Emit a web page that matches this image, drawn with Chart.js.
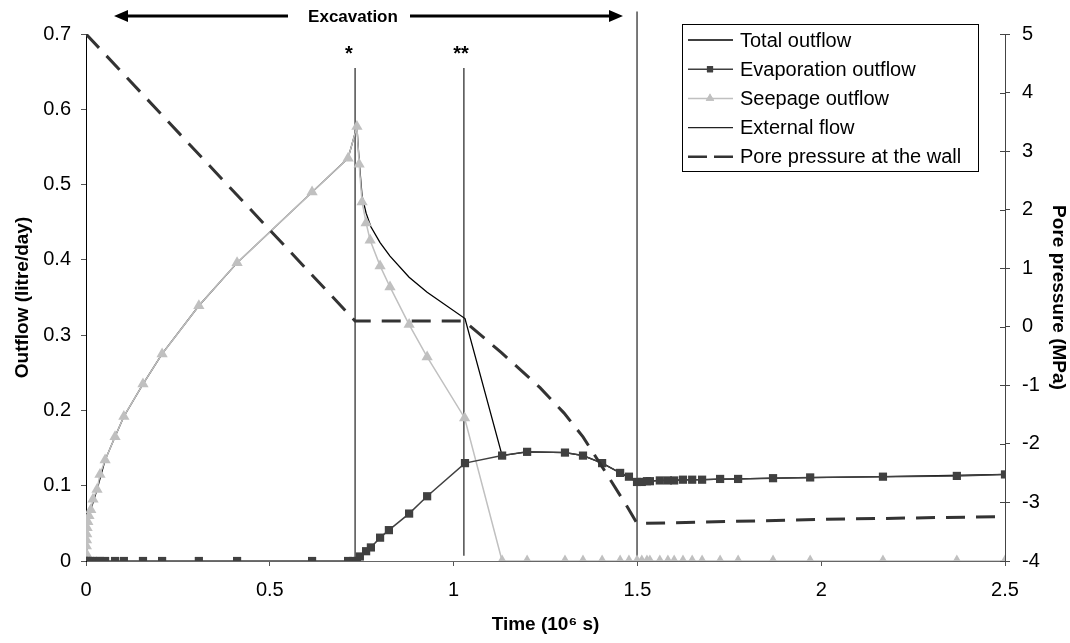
<!DOCTYPE html>
<html>
<head>
<meta charset="utf-8">
<script src="https://cdn.jsdelivr.net/npm/chart.js@4.4.1/dist/chart.umd.min.js"></script>
<style>
  html, body { margin: 0; padding: 0; background: #fff; }
</style>
</head>
<body>
<canvas id="outflowChart" width="1070" height="643"></canvas>
<script>
const FONT = "'Liberation Sans', Arial, Helvetica, sans-serif";

// time in 10^6 s, flow in litre/day, pressure in MPa
const timeTicks = [0, 0.5, 1, 1.5, 2, 2.5];
const flowTicks = [0, 0.1, 0.2, 0.3, 0.4, 0.5, 0.6, 0.7];
const pressureTicks = [-4, -3, -2, -1, 0, 1, 2, 3, 4, 5];

const seepageTime = [0, 0.0005, 0.001, 0.0015, 0.002, 0.003, 0.005, 0.008, 0.013, 0.019, 0.03, 0.038, 0.052, 0.079, 0.103, 0.155, 0.207, 0.307, 0.411, 0.615, 0.713, 0.737, 0.743, 0.751, 0.762, 0.773, 0.8, 0.827, 0.879, 0.928, 1.03, 1.132, 1.2, 1.303, 1.352, 1.404, 1.453, 1.477, 1.499, 1.512, 1.526, 1.534, 1.561, 1.583, 1.6, 1.624, 1.649, 1.676, 1.725, 1.774, 1.869, 1.97, 2.168, 2.369, 2.5];
const seepageFlow = [0, 0.01, 0.02, 0.028, 0.036, 0.044, 0.052, 0.06, 0.068, 0.082, 0.095, 0.115, 0.134, 0.165, 0.192, 0.235, 0.275, 0.339, 0.396, 0.49, 0.535, 0.577, 0.527, 0.477, 0.449, 0.426, 0.392, 0.364, 0.314, 0.271, 0.19, 0, 0, 0, 0, 0, 0, 0, 0, 0, 0, 0, 0, 0, 0, 0, 0, 0, 0, 0, 0, 0, 0, 0, 0];

const evapTime = [0, 0.002, 0.005, 0.01, 0.019, 0.03, 0.038, 0.052, 0.079, 0.103, 0.155, 0.207, 0.307, 0.411, 0.615, 0.713, 0.727, 0.737, 0.745, 0.762, 0.775, 0.8, 0.824, 0.879, 0.928, 1.031, 1.132, 1.2, 1.303, 1.352, 1.404, 1.453, 1.477, 1.499, 1.512, 1.526, 1.534, 1.561, 1.583, 1.6, 1.624, 1.649, 1.676, 1.725, 1.774, 1.869, 1.97, 2.168, 2.369, 2.5];
const evapFlow = [0, 0, 0, 0, 0, 0, 0, 0, 0, 0, 0, 0, 0, 0, 0, 0, 0, 0, 0.006, 0.013, 0.018, 0.031, 0.041, 0.063, 0.086, 0.13, 0.14, 0.145, 0.144, 0.14, 0.13, 0.117, 0.112, 0.105, 0.105, 0.106, 0.106, 0.107, 0.107, 0.107, 0.108, 0.108, 0.108, 0.109, 0.109, 0.11, 0.111, 0.112, 0.113, 0.115];

const totalTime = [0, 0.002, 0.005, 0.013, 0.03, 0.052, 0.079, 0.103, 0.155, 0.207, 0.307, 0.411, 0.615, 0.713, 0.737, 0.743, 0.751, 0.762, 0.775, 0.8, 0.827, 0.879, 0.928, 1.031, 1.132, 1.2, 1.303, 1.352, 1.404, 1.453, 1.499, 1.561, 1.676, 1.869, 2.168, 2.5];
const totalFlow = [0, 0.036, 0.052, 0.068, 0.095, 0.134, 0.165, 0.192, 0.235, 0.275, 0.339, 0.396, 0.49, 0.535, 0.577, 0.532, 0.485, 0.462, 0.444, 0.423, 0.405, 0.377, 0.357, 0.322, 0.14, 0.145, 0.144, 0.14, 0.13, 0.117, 0.105, 0.107, 0.108, 0.11, 0.112, 0.115];

// external flow events: start (*), change (**), end of excavation
const externalTime = [0.732, 0.732, null, 1.028, 1.028, null, 1.499, 1.499];
const externalFlow = [0, 0.655, null, 0.007, 0.655, null, 0, 0.73];

const poreTime = [0, 0.732, 1.028, 1.13, 1.235, 1.3, 1.352, 1.406, 1.472, 1.499, 2.0, 2.5];
const porePressure = [5, 0.1, 0.1, -0.44, -1.04, -1.47, -1.88, -2.41, -3.07, -3.36, -3.29, -3.24];

const pairs = (xs, ys) => xs.map((x, i) => ({ x: x, y: x === null ? null : ys[i] }));

const tickText = (v) => String(Number(v.toFixed(2)));

const annotations = {
    id: "annotations",
    afterDraw(chart) {
        const { ctx, chartArea } = chart;
        const yP = chart.scales.yPressure;

        ctx.save();

        // inner half of the cross ticks on the pressure axis
        ctx.strokeStyle = "#444";
        ctx.lineWidth = 1;
        pressureTicks.forEach((v) => {
            const py = Math.round(yP.getPixelForValue(v)) + 0.5;
            ctx.beginPath();
            ctx.moveTo(chartArea.right - 5, py);
            ctx.lineTo(chartArea.right, py);
            ctx.stroke();
        });

        // excavation period arrows
        const ay = 16;
        ctx.fillStyle = "#000";
        ctx.strokeStyle = "#000";
        ctx.lineWidth = 3;
        ctx.beginPath();
        ctx.moveTo(126, ay);
        ctx.lineTo(288, ay);
        ctx.moveTo(410, ay);
        ctx.lineTo(611, ay);
        ctx.stroke();
        ctx.beginPath();
        ctx.moveTo(114, ay);
        ctx.lineTo(128, ay - 6);
        ctx.lineTo(128, ay + 6);
        ctx.closePath();
        ctx.moveTo(623, ay);
        ctx.lineTo(609, ay - 6);
        ctx.lineTo(609, ay + 6);
        ctx.closePath();
        ctx.fill();

        ctx.font = "bold 17px " + FONT;
        ctx.textAlign = "center";
        ctx.textBaseline = "middle";
        ctx.fillText("Excavation", 353, ay + 1);

        ctx.font = "bold 20px " + FONT;
        ctx.fillText("*", 349, 54);
        ctx.fillText("**", 461, 54);

        // legend box
        const lx = 682, ly = 24, lw = 296, lh = 147;
        ctx.fillStyle = "#fff";
        ctx.fillRect(lx, ly, lw, lh);
        ctx.strokeStyle = "#000";
        ctx.lineWidth = 1;
        ctx.strokeRect(lx + 0.5, ly + 0.5, lw, lh);

        chart.data.datasets.forEach((ds, i) => {
            const ry = 40 + i * 29.2;
            ctx.save();
            ctx.strokeStyle = ds.borderColor;
            ctx.lineWidth = Math.min(ds.borderWidth, 2.5);
            ctx.setLineDash(ds.borderDash ? [19, 7] : []);
            ctx.beginPath();
            ctx.moveTo(688, ry);
            ctx.lineTo(733, ry);
            ctx.stroke();
            ctx.restore();
            if (ds.pointRadius > 0) {
                ctx.fillStyle = ds.pointBackgroundColor;
                Chart.helpers.drawPoint(ctx, { pointStyle: ds.pointStyle, radius: ds.pointRadius * 0.75, rotation: 0, borderWidth: 0 }, 710, ry);
                ctx.fill();
            }
            ctx.fillStyle = "#000";
            ctx.font = "20px " + FONT;
            ctx.textAlign = "left";
            ctx.textBaseline = "middle";
            ctx.fillText(ds.label, 740, ry + 1);
        });

        ctx.restore();
    },
};

new Chart(document.getElementById("outflowChart"), {
    type: "line",
    data: {
        datasets: [
            {
                label: "Total outflow",
                data: pairs(totalTime, totalFlow),
                yAxisID: "yFlow",
                borderColor: "#000",
                borderWidth: 1.3,
                pointRadius: 0,
                order: 3,
            },
            {
                label: "Evaporation outflow",
                data: pairs(evapTime, evapFlow),
                yAxisID: "yFlow",
                borderColor: "#404040",
                borderWidth: 1.5,
                pointStyle: "rect",
                pointRadius: 5.8,
                pointBackgroundColor: "#404040",
                pointBorderWidth: 0,
                order: 1,
            },
            {
                label: "Seepage outflow",
                data: pairs(seepageTime, seepageFlow),
                yAxisID: "yFlow",
                borderColor: "#c0c0c0",
                borderWidth: 1.5,
                pointStyle: "triangle",
                pointRadius: 6.5,
                pointBackgroundColor: "#c0c0c0",
                pointBorderWidth: 0,
                order: 2,
            },
            {
                label: "External flow",
                data: pairs(externalTime, externalFlow),
                yAxisID: "yFlow",
                borderColor: "#222",
                borderWidth: 1.2,
                pointRadius: 0,
                spanGaps: false,
                clip: false,
                order: 4,
            },
            {
                label: "Pore pressure at the wall",
                data: pairs(poreTime, porePressure),
                yAxisID: "yPressure",
                borderColor: "#333",
                borderWidth: 3,
                borderDash: [19, 11],
                pointRadius: 0,
                order: 0,
            },
        ],
    },
    options: {
        responsive: false,
        animation: false,
        layout: { padding: { top: 34, left: 0, right: 0, bottom: 0 } },
        plugins: {
            legend: { display: false },
            tooltip: { enabled: false },
        },
        scales: {
            x: {
                type: "linear",
                min: 0,
                max: 2.5,
                afterBuildTicks: (scale) => {
                    scale.ticks = timeTicks.map((v) => ({ value: v }));
                },
                afterFit: (scale) => {
                    scale.height = 82;
                },
                grid: { drawOnChartArea: false, drawTicks: true, tickLength: 5, color: "#555" },
                border: { display: true, color: "#666" },
                ticks: {
                    color: "#000",
                    padding: 12,
                    maxRotation: 0,
                    font: { family: FONT, size: 20 },
                    callback: tickText,
                },
                title: {
                    display: true,
                    text: "Time (10\u2076 s)",
                    color: "#000",
                    font: { family: FONT, size: 19, weight: "bold" },
                    padding: { top: 0, bottom: 7 },
                },
            },
            yFlow: {
                type: "linear",
                position: "left",
                min: 0,
                max: 0.7,
                afterBuildTicks: (scale) => {
                    scale.ticks = flowTicks.map((v) => ({ value: v }));
                },
                afterFit: (scale) => {
                    scale.width = 86;
                },
                grid: { drawOnChartArea: false, drawTicks: true, tickLength: 5, color: "#555" },
                border: { display: true, color: "#000" },
                ticks: {
                    color: "#000",
                    padding: 10,
                    font: { family: FONT, size: 20 },
                    callback: tickText,
                },
                title: {
                    display: true,
                    text: "Outflow (litre/day)",
                    color: "#000",
                    font: { family: FONT, size: 19, weight: "bold" },
                    padding: { top: 11, bottom: 0 },
                },
            },
            yPressure: {
                type: "linear",
                position: "right",
                min: -4,
                max: 5,
                afterBuildTicks: (scale) => {
                    scale.ticks = pressureTicks.map((v) => ({ value: v }));
                },
                afterFit: (scale) => {
                    scale.width = 65;
                },
                grid: { drawOnChartArea: false, drawTicks: true, tickLength: 5, color: "#444" },
                border: { display: true, color: "#444" },
                ticks: {
                    color: "#000",
                    padding: 12,
                    font: { family: FONT, size: 20 },
                    callback: tickText,
                },
                title: {
                    display: true,
                    text: "Pore pressure (MPa)",
                    color: "#000",
                    font: { family: FONT, size: 19, weight: "bold" },
                    padding: { top: 0, bottom: 0 },
                },
            },
        },
    },
    plugins: [annotations],
});
</script>
</body>
</html>
